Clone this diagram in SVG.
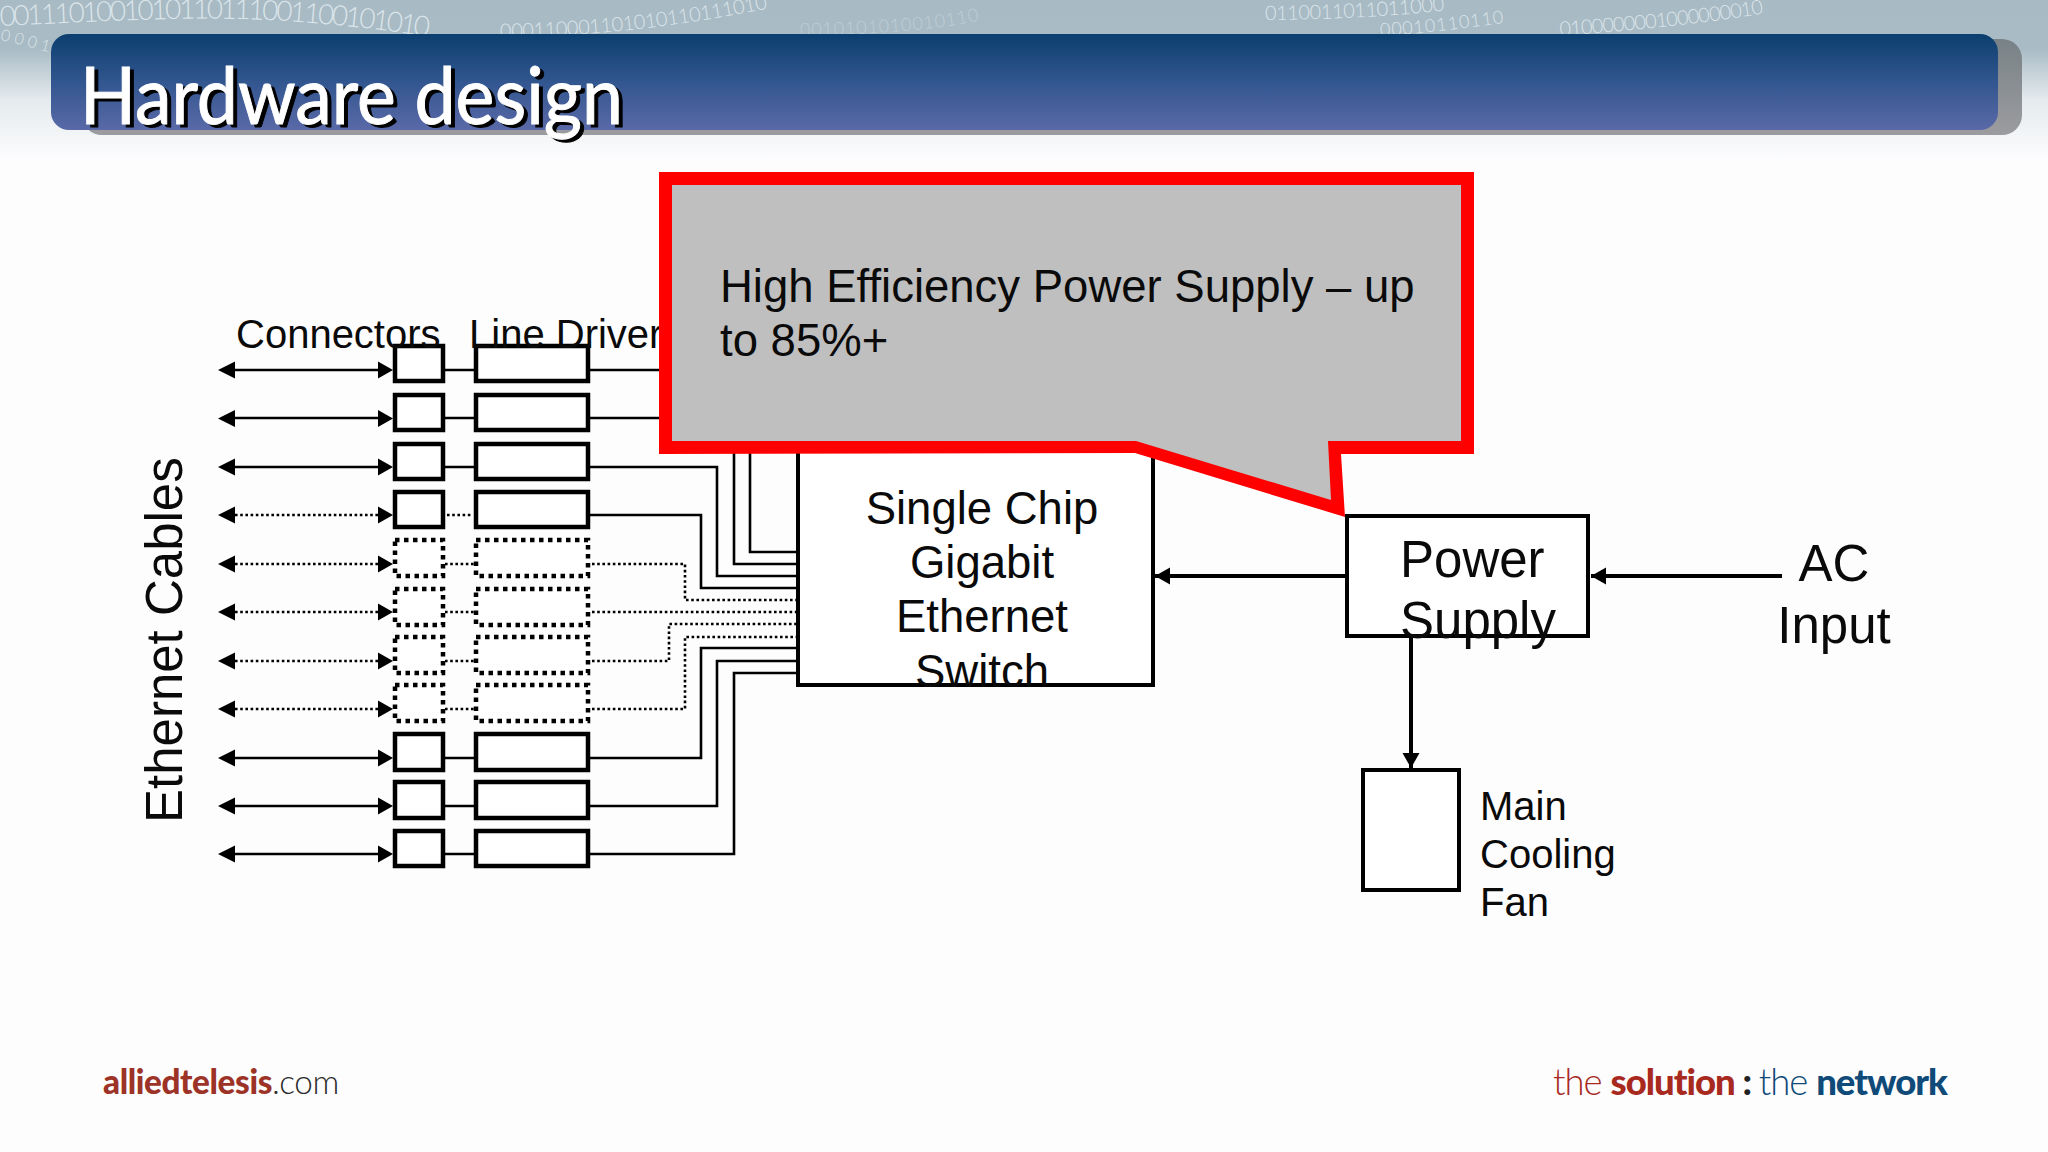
<svg xmlns="http://www.w3.org/2000/svg" width="2048" height="1152" viewBox="0 0 2048 1152">
<style>
.t{font-family:"Liberation Sans",Arial,sans-serif;fill:#0a0a0a}
.box{fill:#fff;stroke:#000;stroke-width:4.5}
.dash{fill:#fff;stroke:#000;stroke-width:4.5;stroke-dasharray:4.5 4.5}
.l{fill:none;stroke:#000;stroke-width:2.6}
.d{fill:none;stroke:#000;stroke-width:2.6;stroke-dasharray:2.6 2.6}
.p{fill:none;stroke:#000;stroke-width:4}
.bin{font-family:Lato,"Liberation Sans",sans-serif;font-weight:300;fill:#dbe5ea}
</style>
<defs>
<linearGradient id="bg" x1="0" y1="0" x2="0" y2="1"><stop offset="0" stop-color="#a8bac4"/><stop offset="0.3" stop-color="#a9bbc5"/><stop offset="0.62" stop-color="#e4eaed"/><stop offset="1" stop-color="#fdfdfe"/></linearGradient>
<linearGradient id="ban" x1="0" y1="0" x2="0" y2="1"><stop offset="0" stop-color="#0b3e6f"/><stop offset="0.5" stop-color="#32568f"/><stop offset="1" stop-color="#5a69a8"/></linearGradient>
<linearGradient id="sh" x1="0" y1="0" x2="0" y2="1"><stop offset="0" stop-color="#788286"/><stop offset="1" stop-color="#9c9ca0"/></linearGradient>
<marker id="ah" markerUnits="userSpaceOnUse" markerWidth="16" markerHeight="18" refX="15" refY="8.5" orient="auto"><path d="M0 0L15 8.500L0 17Z" fill="#000"/></marker>
<path id="w1" d="M0 26C100 22 200 14 300 22S400 34 440 38"/>
<path id="w2" d="M500 38C600 36 680 26 770 8"/>
<path id="w3" d="M800 36C880 34 940 30 990 18"/>
<path id="w4" d="M1265 20C1300 20 1380 18 1450 10"/>
<path id="w5" d="M1380 36C1420 34 1450 30 1510 22"/>
<path id="w6" d="M1560 36C1640 30 1720 22 1770 12"/>
<path id="w7" d="M0 40C20 44 40 50 56 54"/>
</defs>
<rect id="background" width="2048" height="1152" fill="#fdfdfe"/>
<rect width="2048" height="160" fill="url(#bg)"/>
<g id="binary-backdrop" class="bin" font-size="28">
<text><textPath href="#w1" textLength="430" lengthAdjust="spacing">0011101001010110111001100101010</textPath></text>
<text font-size="20"><textPath href="#w2" textLength="270" lengthAdjust="spacing">000110001101010110111010</textPath></text>
<text font-size="18" opacity="0.45"><textPath href="#w3" textLength="180" lengthAdjust="spacing">0010101010010110</textPath></text>
<text font-size="20"><textPath href="#w4" textLength="180" lengthAdjust="spacing">0110011011011000</textPath></text>
<text font-size="18"><textPath href="#w5" textLength="125" lengthAdjust="spacing">00010110110</textPath></text>
<text font-size="20"><textPath href="#w6" textLength="205" lengthAdjust="spacing">0100000001000000010</textPath></text>
<text font-size="16"><textPath href="#w7" textLength="50" lengthAdjust="spacing">0001</textPath></text>
</g>
<g id="title-banner">
<rect x="82" y="39" width="1940" height="96" rx="20" fill="url(#sh)"/>
<rect x="51" y="34" width="1947" height="96" rx="18" fill="url(#ban)"/>
<text x="84" y="127" font-family="Lato,'Noto Sans',sans-serif" font-size="79" fill="#000" stroke="#000" stroke-width="1" textLength="543" lengthAdjust="spacingAndGlyphs">Hardware design</text>
<text x="80" y="124" font-family="Lato,'Noto Sans',sans-serif" font-size="79" fill="#fff" stroke="#fff" stroke-width="1" textLength="543" lengthAdjust="spacingAndGlyphs">Hardware design</text>
</g>
<g id="connectors">
<g id="row-links">
<path class="l" d="M235 370H378M445 370H474M590 370H750V552H797"/>
<path class="l" d="M235 418H378M445 418H474M590 418H734V564H797"/>
<path class="l" d="M235 467H378M445 467H474M590 467H717V576H797"/>
<path class="d" d="M235 515H378M447 515H472"/><path class="l" d="M590 515H701V588H797"/>
<path class="d" d="M235 564H378M445 564H474M592 564H685V600H797"/>
<path class="d" d="M235 612H378M445 612H474M592 612H797"/>
<path class="d" d="M235 661H378M445 661H474M592 661H669V624H797"/>
<path class="d" d="M235 709H378M445 709H474M592 709H685V637H797"/>
<path class="l" d="M235 758H378M445 758H474M590 758H701V648H797"/>
<path class="l" d="M235 806H378M445 806H474M590 806H717V661H797"/>
<path class="l" d="M235 854H378M445 854H474M590 854H734V673H797"/>
</g>
<g id="ethernet-arrows" fill="#000">
<path d="M218 370l17-8.500v17ZM393 370l-15-8.500v17Z"/>
<path d="M218 418.500l17-8.500v17ZM393 418.500l-15-8.500v17Z"/>
<path d="M218 467l17-8.500v17ZM393 467l-15-8.500v17Z"/>
<path d="M218 515l17-8.500v17ZM393 515l-15-8.500v17Z"/>
<path d="M218 564l17-8.500v17ZM393 564l-15-8.500v17Z"/>
<path d="M218 612l17-8.500v17ZM393 612l-15-8.500v17Z"/>
<path d="M218 661l17-8.500v17ZM393 661l-15-8.500v17Z"/>
<path d="M218 709l17-8.500v17ZM393 709l-15-8.500v17Z"/>
<path d="M218 758l17-8.500v17ZM393 758l-15-8.500v17Z"/>
<path d="M218 806l17-8.500v17ZM393 806l-15-8.500v17Z"/>
<path d="M218 854l17-8.500v17ZM393 854l-15-8.500v17Z"/>
</g>
<path class="p" d="M1346 576H1155" marker-end="url(#ah)"/>
<path class="p" d="M1782 576H1591" marker-end="url(#ah)"/>
<path class="p" d="M1411 637V768" marker-end="url(#ah)"/>
</g>
<g id="connector-boxes">
<rect class="box" x="395" y="346" width="48" height="35"/>
<rect class="box" x="395" y="395" width="48" height="35"/>
<rect class="box" x="395" y="444" width="48" height="35"/>
<rect class="box" x="395" y="492" width="48" height="35"/>
<rect class="dash" x="395" y="540" width="48" height="36"/>
<rect class="dash" x="395" y="589" width="48" height="36"/>
<rect class="dash" x="395" y="637" width="48" height="36"/>
<rect class="dash" x="395" y="685" width="48" height="36"/>
<rect class="box" x="395" y="734" width="48" height="36"/>
<rect class="box" x="395" y="782" width="48" height="36"/>
<rect class="box" x="395" y="831" width="48" height="35"/>
</g>
<g id="line-drivers">
<rect class="box" x="476" y="346" width="112" height="35"/>
<rect class="box" x="476" y="395" width="112" height="35"/>
<rect class="box" x="476" y="444" width="112" height="35"/>
<rect class="box" x="476" y="492" width="112" height="35"/>
<rect class="dash" x="476" y="540" width="112" height="36"/>
<rect class="dash" x="476" y="589" width="112" height="36"/>
<rect class="dash" x="476" y="637" width="112" height="36"/>
<rect class="dash" x="476" y="685" width="112" height="36"/>
<rect class="box" x="476" y="734" width="112" height="36"/>
<rect class="box" x="476" y="782" width="112" height="36"/>
<rect class="box" x="476" y="831" width="112" height="35"/>
</g>
<g id="labels">
<text class="t" x="236" y="348" font-size="40">Connectors</text>
<text class="t" x="469" y="348" font-size="40">Line Driver</text>
<text class="t" transform="translate(182 823) rotate(-90)" font-size="51">Ethernet Cables</text>
</g>
<g id="switch">
<path d="M798 400V685H1153V400" fill="#fff" stroke="#000" stroke-width="4"/>
<g class="t" font-size="45.500" text-anchor="middle">
<text x="982" y="524">Single Chip</text>
<text x="982" y="578">Gigabit</text>
<text x="982" y="632">Ethernet</text>
<text x="982" y="687">Switch</text>
</g>
</g>
<g id="power-supply">
<rect x="1347" y="516" width="241" height="120" fill="#fff" stroke="#000" stroke-width="4"/>
<text class="t" x="1400" y="577" font-size="51">Power</text>
<text class="t" x="1400" y="638" font-size="51">Supply</text>
</g>
<g id="ac-input">
<text class="t" x="1834" y="581" font-size="51" text-anchor="middle">AC</text>
<text class="t" x="1834" y="643" font-size="51" text-anchor="middle">Input</text>
</g>
<g id="cooling-fan">
<rect x="1363" y="770" width="96" height="120" fill="#fff" stroke="#000" stroke-width="4"/>
<text class="t" x="1480" y="820" font-size="40">Main</text>
<text class="t" x="1480" y="868" font-size="40">Cooling</text>
<text class="t" x="1480" y="916" font-size="40">Fan</text>
</g>
<g id="callout">
<polygon points="659,172 1474,172 1474,454 1341,454 1345,517 1135,453 659,454" fill="#ff0000"/>
<polygon points="672,185 1461,185 1461,441 1328,441 1331,500 1136,441 672,441" fill="#bfbfbf"/>
<text class="t" x="720" y="302" font-size="45.500">High Efficiency Power Supply – up</text>
<text class="t" x="720" y="356" font-size="45.500">to 85%+</text>
</g>
<g id="logo-left">
<text x="103" y="1094" font-family="Lato,sans-serif" font-size="33.300" letter-spacing="-0.4"><tspan font-weight="900" fill="#9c3326">alliedtelesis</tspan><tspan font-weight="300" fill="#2a2a2a">.com</tspan></text>
</g>
<g id="logo-right">
<text x="1553" y="1095" font-family="Lato,sans-serif" font-size="36.500" letter-spacing="-1"><tspan font-weight="300" fill="#a82a1e">the </tspan><tspan font-weight="900" fill="#a82a1e">solution</tspan><tspan font-weight="900" fill="#222"> : </tspan><tspan font-weight="300" fill="#0f4a78">the </tspan><tspan font-weight="900" fill="#0f4a78">network</tspan></text>
</g>
</svg>
